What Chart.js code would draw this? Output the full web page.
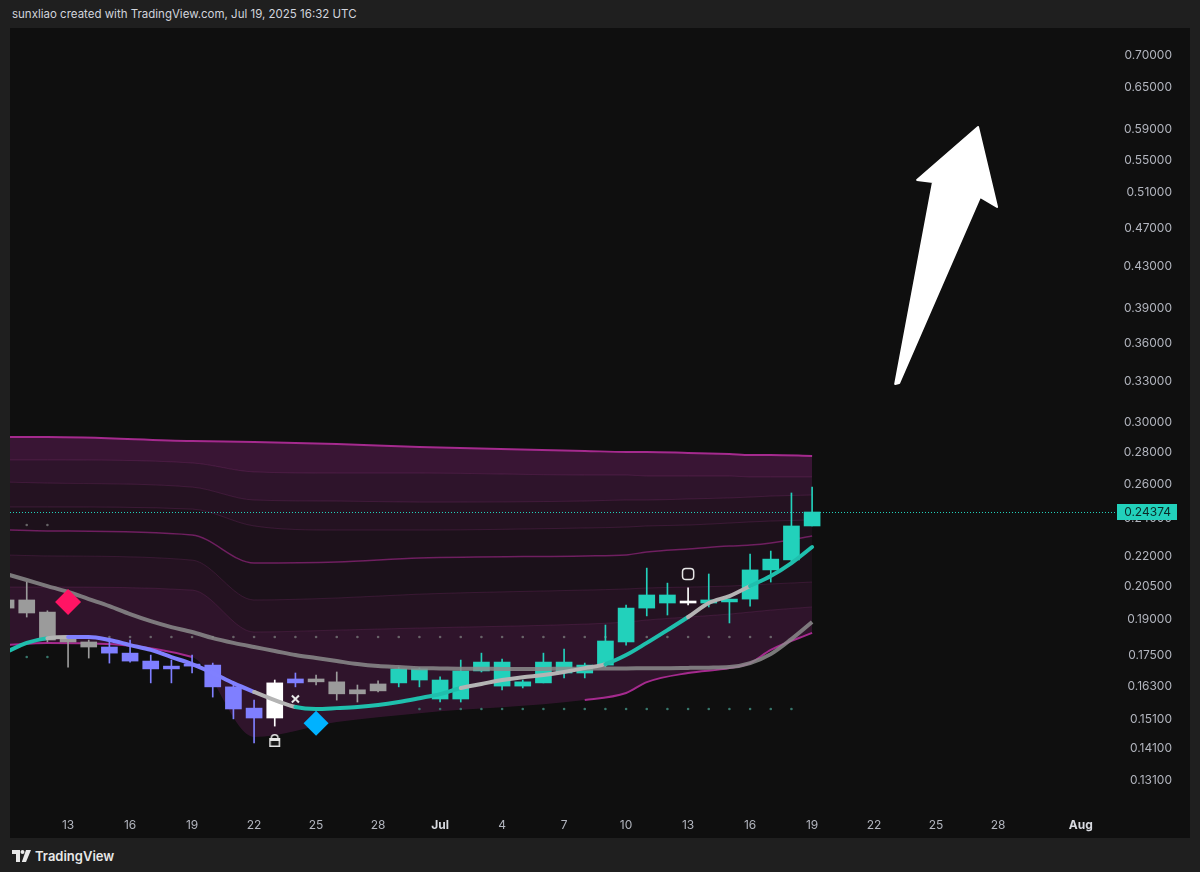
<!DOCTYPE html>
<html>
<head>
<meta charset="utf-8">
<script src="https://cdn.jsdelivr.net/npm/chart.js@4.4.1/dist/chart.umd.min.js"></script>
<style>
  body { margin: 0; background: #1f1f1f; width: 1200px; height: 872px; overflow: hidden; font-family: Inter, "Noto Sans", sans-serif; }
  #hdr { position: absolute; left: 12px; top: 7px; font-size: 11.5px; color: #d1d4dc; }
  #panel { position: absolute; left: 10px; top: 28px; width: 1180px; height: 810px; background: #0f0f0f; }
  #ftr { position: absolute; left: 12px; top: 848px; display: flex; align-items: center; gap: 4px; color: #e8e8e8; font-size: 13px; font-weight: 600; }
</style>
</head>
<body>
<div id="hdr">sunxliao created with TradingView.com, Jul 19, 2025 16:32 UTC</div>
<div id="panel"><canvas id="chart" width="1180" height="810"></canvas></div>
<div id="ftr">
  <svg width="19" height="12" viewBox="0 0 19 12"><path d="M0 0h8v12H4V4H0z" fill="#e8e8e8"/><circle cx="10.5" cy="2" r="2" fill="#e8e8e8"/><path d="M14 0h5l-5 12h-4.2z" fill="#e8e8e8"/></svg>
  <span>TradingView</span>
</div>
<script>
// jours : 10 = 10 juin ... 30 = 30 juin, 31 = 1er juillet ... 62 = 1er août
const candleDays = [10, 11, 12, 13, 14, 15, 16, 17, 18, 19, 20, 21, 22, 23, 24, 25, 26, 27, 28, 29,
                    30, 31, 32, 33, 34, 35, 36, 37, 38, 39, 40, 41, 42, 43, 44, 45, 46, 47, 48, 49];
const opens  = [0.1989, 0.1989, 0.1934, 0.1817, 0.1805, 0.1784, 0.1759, 0.1727, 0.1707, 0.1715,
                0.1711, 0.1627, 0.1549, 0.1514, 0.1657, 0.1657, 0.1646, 0.1616, 0.1638, 0.1642,
                0.1653, 0.1582, 0.1582, 0.1688, 0.1630, 0.1630, 0.1642, 0.1680, 0.1680, 0.1711,
                0.1805, 0.1952, 0.1975, 0.1975, 0.1975, 0.1980, 0.1993, 0.2132, 0.2182, 0.2360];
const highs  = [0.2000, 0.2073, 0.1940, 0.1821, 0.1813, 0.1821, 0.1813, 0.1751, 0.1731, 0.1751,
                0.1719, 0.1634, 0.1578, 0.1653, 0.1680, 0.1672, 0.1684, 0.1634, 0.1650, 0.1703,
                0.1700, 0.1665, 0.1731, 0.1759, 0.1735, 0.1653, 0.1759, 0.1776, 0.1719, 0.1877,
                0.1966, 0.2141, 0.2068, 0.2045, 0.2112, 0.1993, 0.2212, 0.2227, 0.2547, 0.2582];
const lows   = [0.1940, 0.1912, 0.1805, 0.1703, 0.1739, 0.1719, 0.1723, 0.1642, 0.1642, 0.1680,
                0.1589, 0.1511, 0.1429, 0.1486, 0.1627, 0.1634, 0.1578, 0.1571, 0.1608, 0.1627,
                0.1627, 0.1571, 0.1571, 0.1684, 0.1616, 0.1623, 0.1642, 0.1661, 0.1661, 0.1703,
                0.1792, 0.1917, 0.1921, 0.1966, 0.1957, 0.1886, 0.1961, 0.2073, 0.2171, 0.2360];
const closes = [0.1952, 0.1930, 0.1813, 0.1805, 0.1784, 0.1759, 0.1727, 0.1696, 0.1696, 0.1707,
                0.1627, 0.1546, 0.1514, 0.1642, 0.1642, 0.1646, 0.1601, 0.1601, 0.1612, 0.1696,
                0.1696, 0.1653, 0.1688, 0.1723, 0.1723, 0.1646, 0.1723, 0.1723, 0.1711, 0.1809,
                0.1952, 0.2012, 0.2012, 0.1984, 0.1989, 0.1993, 0.2132, 0.2186, 0.2360, 0.24374];
// g = gris, p = violet, w = blanc, t = turquoise
const candleState = ['g','g','g','g','g','p','p','p','p','p','p','p','p','w','p','g','g','g','g','t',
                     't','t','t','t','t','t','t','t','t','t','t','t','t','w','t','t','t','t','t','t'];

// moyennes mobiles
const fastMA = [0.1763, 0.1801, 0.1821, 0.1826, 0.1826, 0.1813, 0.1792, 0.1772, 0.1743, 0.1715,
                0.1680, 0.1641, 0.1608, 0.1578, 0.1553, 0.1546, 0.1549, 0.1553, 0.1560, 0.1571,
                0.1585, 0.1600, 0.1623, 0.1638, 0.1653, 0.1664, 0.1672, 0.1684, 0.1699, 0.1715,
                0.1751, 0.1801, 0.1855, 0.1912, 0.1975, 0.2007, 0.2054, 0.2102, 0.2166, 0.2248];
const fastTrend = ['t','t','g','p','p','p','p','p','p','p','p','p','g','g','t','t','t','t','t','t',
                   't','t','g','g','g','g','g','g','g','t','t','t','t','g','g','g','t','t','t','t'];
const slowMA = [0.2112, 0.2083, 0.2054, 0.2026, 0.1993, 0.1961, 0.1925, 0.1894, 0.1868, 0.1847,
                0.1821, 0.1801, 0.1784, 0.1768, 0.1751, 0.1739, 0.1727, 0.1715, 0.1707, 0.1703,
                0.1699, 0.1698, 0.1697, 0.1697, 0.1696, 0.1696, 0.1696, 0.1697, 0.1697, 0.1698,
                0.1698, 0.1699, 0.1699, 0.1700, 0.1701, 0.1703, 0.1719, 0.1755, 0.1817, 0.1890];

// bandes (points d'appui)
const bandDays = [10, 12, 19, 22, 26, 30, 38, 40, 41, 43, 45, 46, 47, 49];
const bandTop  = [0.2899, 0.2899, 0.2872, 0.2866, 0.2852, 0.2833, 0.2807, 0.2800, 0.2800, 0.2794, 0.2787, 0.2781, 0.2781, 0.2774];
const band2    = [0.2749, 0.2749, 0.2730, 0.2674, 0.2667, 0.2667, 0.2655, 0.2655, 0.2649, 0.2649, 0.2649, 0.2643, 0.2643, 0.2643];
const band3    = [0.2612, 0.2606, 0.2582, 0.2506, 0.2500, 0.2494, 0.2500, 0.2506, 0.2506, 0.2512, 0.2518, 0.2523, 0.2529, 0.2535];
const band4    = [0.2466, 0.2466, 0.2454, 0.2360, 0.2338, 0.2338, 0.2349, 0.2354, 0.2360, 0.2365, 0.2376, 0.2382, 0.2387, 0.2393];
const bandMid  = [0.2338, 0.2333, 0.2311, 0.2166, 0.2171, 0.2191, 0.2202, 0.2207, 0.2222, 0.2238, 0.2253, 0.2258, 0.2269, 0.2306];
const band6    = [0.2207, 0.2202, 0.2181, 0.1989, 0.1998, 0.2016, 0.2035, 0.2040, 0.2045, 0.2049, 0.2054, 0.2059, 0.2064, 0.2073];
const band7    = [0.2049, 0.2049, 0.2035, 0.1847, 0.1855, 0.1864, 0.1881, 0.1890, 0.1899, 0.1912, 0.1925, 0.1934, 0.1943, 0.1957];
const bandLow  = [0.1792, 0.1801, 0.1743, 0.1449, 0.1500, 0.1531, 0.1578, 0.1604, 0.1645, 0.1680, 0.1699, 0.1719, 0.1772, 0.1843];

// rangées de points
const dotsADays = [15, 16, 17, 18, 19, 20, 21, 22, 23, 24, 25, 26, 27, 28, 29, 30, 31,
                   32, 33, 34, 35, 36, 37, 38, 39, 40, 41, 42, 43, 44, 45, 46, 47];
const dotsALevel = 0.1826;
const dotsBDays = [30, 31, 32, 33, 34, 35, 36, 37, 38, 39, 40, 41, 42, 43, 44, 45, 46, 47, 48];
const dotsBLevel = 0.1546;
const dotsCDays = [11, 12];
const dotsCLevel = 0.1743;
const dotsDLevel = 0.2365;

// signaux
const sellSignal = {day: 13, value: 0.1980};
const buySignal = {day: 25, value: 0.1496};
const crossMark = {day: 24, value: 0.1582};
const lockMark = {day: 23, value: 0.1439};
const boxMark = {day: 43, value: 0.2112};

// flèche dessinée
const arrowDays = [53.02, 54.85, 54.08, 57.03, 57.95, 57.13, 53.21];
const arrowVals = [0.3277, 0.5227, 0.5251, 0.5935, 0.4933, 0.5049, 0.3284];

// axes
const priceTicks = [0.131, 0.141, 0.151, 0.163, 0.175, 0.19, 0.205, 0.22, 0.24, 0.26, 0.28,
                    0.30, 0.33, 0.36, 0.39, 0.43, 0.47, 0.51, 0.55, 0.59, 0.65, 0.70];
const dateTicks = [13, 16, 19, 22, 25, 28, 31, 34, 37, 40, 43, 46, 49, 52, 55, 58, 62];
const dateLabels = ['13', '16', '19', '22', '25', '28', 'Jul', '4', '7', '10', '13', '16', '19', '22', '25', '28', 'Aug'];

const teal = '#22d1bb';
const stateColor = {g: '#9b9b9b', p: '#7f7fff', w: '#ffffff', t: teal};
const trendColor = {g: '#b4b4b4', p: '#8080ff', t: '#1fbfad'};

Chart.defaults.font.family = "Inter, 'Noto Sans', sans-serif";

const pts = (xs, ys) => xs.map((d, i) => ({x: d, y: ys[i]}));

function lockIcon() {
  const c = document.createElement('canvas');
  c.width = 13; c.height = 16;
  const g = c.getContext('2d');
  g.strokeStyle = '#e6e6e6';
  g.lineWidth = 1.5;
  g.beginPath();
  g.arc(6.5, 6, 3.3, Math.PI, 0);
  g.stroke();
  g.fillStyle = '#e6e6e6';
  g.fillRect(1, 6, 11, 9);
  g.fillStyle = '#1a1a1a';
  g.fillRect(2.5, 9, 8, 4.5);
  return c;
}

const bandFill = (data, border, width, fill, extra) => Object.assign({
  type: 'line', data: pts(bandDays, data), borderColor: border, borderWidth: width,
  pointRadius: 0, cubicInterpolationMode: 'monotone', fill: fill ? {target: '-1'} : false,
  backgroundColor: fill || 'transparent', order: 10
}, extra || {});

const dotSet = (days, level, color) => ({
  type: 'line', data: days.map(d => ({x: d, y: level})), showLine: false,
  pointRadius: 1.3, pointBackgroundColor: color, pointBorderWidth: 0, order: 8
});

// pas de marge automatique autour de la zone du graphique
const noPad = s => { s.paddingLeft = 0; s.paddingRight = 0; s.paddingTop = 0; s.paddingBottom = 0; };

const overlay = {
  id: 'overlay',
  afterDatasetsDraw(chart) {
    const {ctx, scales: {x, y}} = chart;
    ctx.save();
    ctx.beginPath();
    arrowDays.forEach((d, i) => {
      const px = x.getPixelForValue(d), py = y.getPixelForValue(arrowVals[i]);
      if (i) ctx.lineTo(px, py); else ctx.moveTo(px, py);
    });
    ctx.closePath();
    ctx.fillStyle = '#ffffff';
    ctx.strokeStyle = '#ffffff';
    ctx.lineJoin = 'round';
    ctx.lineWidth = 2;
    ctx.fill();
    ctx.stroke();
    ctx.restore();
  },
  afterDraw(chart) {
    const {ctx, chartArea, scales: {y}} = chart;
    const last = closes[closes.length - 1];
    const py = Math.round(y.getPixelForValue(last)) + 0.5;
    ctx.save();
    ctx.setLineDash([1, 2]);
    ctx.strokeStyle = teal;
    ctx.lineWidth = 1;
    ctx.beginPath();
    ctx.moveTo(chartArea.left, py);
    ctx.lineTo(chartArea.right + 17, py);
    ctx.stroke();
    ctx.setLineDash([]);
    ctx.fillStyle = teal;
    ctx.fillRect(chartArea.right + 17, py - 8.5, 60, 16);
    ctx.fillStyle = '#0c2b28';
    ctx.font = "12px Inter, 'Noto Sans', sans-serif";
    ctx.textAlign = 'right';
    ctx.textBaseline = 'middle';
    ctx.fillText(last.toFixed(5), y.right - 1, py);
    ctx.restore();
  }
};

const datasets = [
  bandFill(bandTop, '#a52a8e', 2, null),
  bandFill(band2, 'rgba(160,60,140,0.22)', 1, 'rgba(92,28,84,0.55)'),
  bandFill(band3, 'rgba(160,60,140,0.22)', 1, 'rgba(92,28,84,0.40)'),
  bandFill(band4, 'rgba(160,60,140,0.22)', 1, 'rgba(92,28,84,0.28)'),
  bandFill(bandMid, '#6f1f60', 1.5, 'rgba(92,28,84,0.18)'),
  bandFill(band6, 'rgba(160,60,140,0.20)', 1, 'rgba(92,28,84,0.16)'),
  bandFill(band7, 'rgba(160,60,140,0.20)', 1, 'rgba(92,28,84,0.28)'),
  bandFill(bandLow, 'rgba(0,0,0,0)', 0, 'rgba(92,28,84,0.42)'),
  // bord inférieur magenta, visible seulement à gauche et à droite
  bandFill(bandLow, '#a52a8e', 2, null, {
    order: 9,
    segment: {borderColor: c => (c.p0DataIndex >= 2 && c.p0DataIndex < 6) ? 'rgba(0,0,0,0)' : '#a52a8e'}
  }),
  dotSet(dotsADays, dotsALevel, 'rgba(120,120,120,0.8)'),
  dotSet(dotsBDays, dotsBLevel, 'rgba(60,130,118,0.9)'),
  dotSet(dotsCDays, dotsCLevel, 'rgba(60,130,118,0.9)'),
  dotSet(dotsCDays, dotsDLevel, 'rgba(120,120,120,0.8)'),
  {
    type: 'bar', data: candleDays.map((d, i) => ({x: d, y: [lows[i], highs[i]]})),
    backgroundColor: candleState.map(s => stateColor[s]), barThickness: 1, grouped: false, order: 5
  },
  {
    type: 'bar',
    data: candleDays.map((d, i) => ({x: d, y: [Math.min(opens[i], closes[i]), Math.max(opens[i], closes[i])]})),
    backgroundColor: candleState.map(s => stateColor[s]), barThickness: 16, grouped: false,
    minBarLength: 2, order: 4
  },
  {
    type: 'line', data: pts(candleDays, slowMA), borderColor: 'rgba(140,140,140,0.85)', borderWidth: 4,
    pointRadius: 0, cubicInterpolationMode: 'monotone', order: 3
  },
  {
    type: 'line', data: pts(candleDays, fastMA), borderWidth: 4, pointRadius: 0,
    cubicInterpolationMode: 'monotone', borderCapStyle: 'round', order: 2,
    borderColor: trendColor.t,
    segment: {borderColor: c => trendColor[fastTrend[c.p0DataIndex]]}
  },
  {
    type: 'line', data: [{x: sellSignal.day, y: sellSignal.value}], showLine: false,
    pointStyle: 'rectRot', pointRadius: 13, pointBackgroundColor: '#ff1464', pointBorderWidth: 0, order: 1
  },
  {
    type: 'line', data: [{x: buySignal.day, y: buySignal.value}], showLine: false,
    pointStyle: 'rectRot', pointRadius: 12.5, pointBackgroundColor: '#00b2ff', pointBorderWidth: 0, order: 1
  },
  {
    type: 'line', data: [{x: crossMark.day, y: crossMark.value}], showLine: false,
    pointStyle: 'crossRot', pointRadius: 5, pointBorderColor: '#e6e6e6', pointBorderWidth: 2, order: 1
  },
  {
    type: 'line', data: [{x: lockMark.day, y: lockMark.value}], showLine: false,
    pointStyle: lockIcon(), order: 1
  },
  {
    type: 'line', data: [{x: boxMark.day, y: boxMark.value}], showLine: false,
    pointStyle: 'rectRounded', pointRadius: 6.5, pointBackgroundColor: 'rgba(0,0,0,0)',
    pointBorderColor: '#e6e6e6', pointBorderWidth: 1.5, order: 1
  }
];

new Chart(document.getElementById('chart').getContext('2d'), {
  type: 'bar',
  data: {datasets: datasets},
  plugins: [overlay],
  options: {
    responsive: false,
    animation: false,
    layout: {padding: {right: 18}, autoPadding: false},
    plugins: {legend: {display: false}, tooltip: {enabled: false}},
    scales: {
      x: {
        type: 'linear', min: 10.19, max: 62.93, offset: false, bounds: 'data',
        grid: {display: false, drawTicks: false}, border: {display: false},
        afterBuildTicks: s => { s.ticks = dateTicks.map(v => ({value: v})); },
        afterFit: s => { s.height = 28; noPad(s); },
        ticks: {
          autoSkip: false, maxRotation: 0, padding: 8,
          callback: v => dateLabels[dateTicks.indexOf(v)],
          color: c => (c.tick && (c.tick.value === 31 || c.tick.value === 62)) ? '#d8dae0' : '#b2b5be',
          font: c => ({size: 12, weight: (c.tick && (c.tick.value === 31 || c.tick.value === 62)) ? 'bold' : 'normal'})
        }
      },
      y: {
        type: 'logarithmic', position: 'right', min: 0.1224, max: 0.7461, bounds: 'data',
        grid: {display: false, drawTicks: false}, border: {display: false},
        afterBuildTicks: s => { s.ticks = priceTicks.map(v => ({value: v})); },
        afterFit: s => { s.width = 72; noPad(s); },
        ticks: {
          autoSkip: false, crossAlign: 'far', color: '#b2b5be', font: {size: 12},
          callback: v => Number(v).toFixed(5)
        }
      }
    }
  }
});
</script>
</body>
</html>
